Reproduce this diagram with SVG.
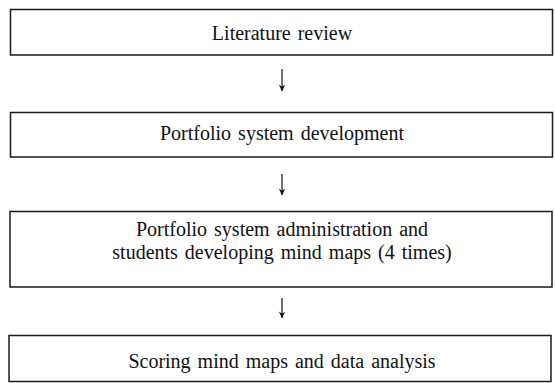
<svg xmlns="http://www.w3.org/2000/svg" width="555" height="383" viewBox="0 0 555 383">
  <style>
    .box { fill: #ffffff; stroke: #1a1a1a; stroke-width: 1.5; }
    .label { font-family: "Liberation Serif", "Times New Roman", serif; font-size: 20px; fill: #111111; text-anchor: middle; word-spacing: 2px; }
    .flow { stroke: #111111; stroke-width: 1.2; fill: none; }
  </style>
  <defs>
    <!-- small downward arrowhead; drawn along +x, turned by orient="auto" -->
    <marker id="head" viewBox="0 0 10 10" refX="9.5" refY="5" markerWidth="10" markerHeight="10" markerUnits="userSpaceOnUse" orient="auto">
      <path d="M3,1.8 L9.8,5 L3,8.2 L5.2,5 Z" fill="#111111"/>
    </marker>
  </defs>
  <rect width="555" height="383" fill="#ffffff"/>

  <g id="step-literature">
    <rect class="box" x="10.5" y="9.5" width="542" height="45.5"/>
    <text class="label" x="282" y="40">Literature review</text>
  </g>

  <g id="step-development">
    <rect class="box" x="10.5" y="112.5" width="542" height="44.5"/>
    <text class="label" x="282" y="140">Portfolio system development</text>
  </g>

  <g id="step-administration">
    <rect class="box" x="10" y="211.5" width="542" height="75.5"/>
    <text class="label" x="282" y="236">Portfolio system administration and</text>
    <text class="label" x="282" y="259">students developing mind maps (4 times)</text>
  </g>

  <g id="step-scoring">
    <rect class="box" x="9" y="335.5" width="542" height="46"/>
    <text class="label" x="282" y="368">Scoring mind maps and data analysis</text>
  </g>

  <g id="connectors">
    <line class="flow" x1="282" y1="69" x2="282" y2="91" marker-end="url(#head)"/>
    <line class="flow" x1="282" y1="174" x2="282" y2="195" marker-end="url(#head)"/>
    <line class="flow" x1="282" y1="298" x2="282" y2="318" marker-end="url(#head)"/>
  </g>
</svg>
